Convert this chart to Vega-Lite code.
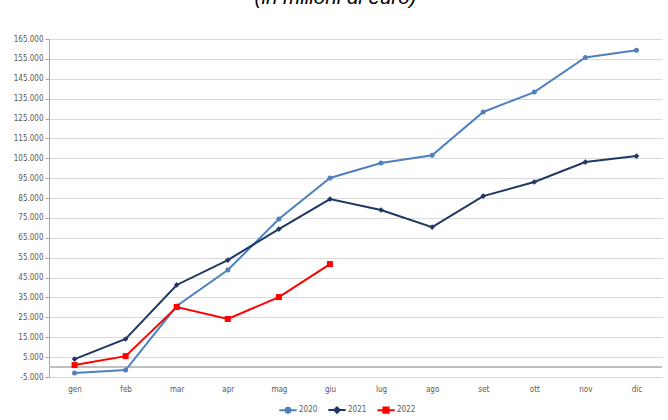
{
  "$schema": "https://vega.github.io/schema/vega-lite/v6.json",
  "width": 613,
  "height": 338,
  "autosize": "none",
  "padding": {"left": 49, "top": 39, "right": 6, "bottom": 43},
  "background": "white",
  "title": {"text": "(in milioni di euro)", "fontStyle": "italic", "fontWeight": "normal", "fontSize": 20.5, "font": "Liberation Sans", "anchor": "middle", "dx": -20, "offset": 0, "dy": -7, "baseline": "bottom", "color": "#000000"},
  "config": {
    "view": {"stroke": null},
    "locale": {"number": {"decimal": ",", "thousands": ".", "grouping": [3], "currency": ["€", ""], "minus": "-"}},
    "axis": {"labelFont": "DejaVu Sans Condensed, Liberation Sans", "labelFontSize": 8, "labelColor": "#595959"},
    "legend": {"labelFont": "DejaVu Sans Condensed, Liberation Sans", "labelFontSize": 8, "labelColor": "#595959"}
  },
  "data": {"values": [
    {"mese": "gen", "anno": "2020", "valore": -3000},
    {"mese": "feb", "anno": "2020", "valore": -1500},
    {"mese": "mar", "anno": "2020", "valore": 30700},
    {"mese": "apr", "anno": "2020", "valore": 48800},
    {"mese": "mag", "anno": "2020", "valore": 74500},
    {"mese": "giu", "anno": "2020", "valore": 95100},
    {"mese": "lug", "anno": "2020", "valore": 102600},
    {"mese": "ago", "anno": "2020", "valore": 106500},
    {"mese": "set", "anno": "2020", "valore": 128300},
    {"mese": "ott", "anno": "2020", "valore": 138300},
    {"mese": "nov", "anno": "2020", "valore": 155700},
    {"mese": "dic", "anno": "2020", "valore": 159300},
    {"mese": "gen", "anno": "2021", "valore": 4000},
    {"mese": "feb", "anno": "2021", "valore": 14100},
    {"mese": "mar", "anno": "2021", "valore": 41300},
    {"mese": "apr", "anno": "2021", "valore": 53800},
    {"mese": "mag", "anno": "2021", "valore": 69400},
    {"mese": "giu", "anno": "2021", "valore": 84500},
    {"mese": "lug", "anno": "2021", "valore": 79000},
    {"mese": "ago", "anno": "2021", "valore": 70400},
    {"mese": "set", "anno": "2021", "valore": 86000},
    {"mese": "ott", "anno": "2021", "valore": 93100},
    {"mese": "nov", "anno": "2021", "valore": 103100},
    {"mese": "dic", "anno": "2021", "valore": 106100},
    {"mese": "gen", "anno": "2022", "valore": 1000},
    {"mese": "feb", "anno": "2022", "valore": 5500},
    {"mese": "mar", "anno": "2022", "valore": 30200},
    {"mese": "apr", "anno": "2022", "valore": 24200},
    {"mese": "mag", "anno": "2022", "valore": 35200},
    {"mese": "giu", "anno": "2022", "valore": 51800}
  ]},
  "encoding": {
    "x": {"field": "mese", "type": "ordinal", "sort": ["gen","feb","mar","apr","mag","giu","lug","ago","set","ott","nov","dic"], "scale": {"type": "point", "padding": 0.5},
          "axis": {"title": null, "domain": false, "ticks": false, "labelPadding": 8, "labelAngle": 0, "grid": false}},
    "y": {"field": "valore", "type": "quantitative", "scale": {"domain": [-5000, 165000], "nice": false, "zero": false},
          "axis": {"title": null, "values": [-5000,5000,15000,25000,35000,45000,55000,65000,75000,85000,95000,105000,115000,125000,135000,145000,155000,165000], "format": ",.0f", "gridColor": "#d9d9d9", "domainColor": "#a6a6a6", "tickColor": "#a6a6a6", "tickSize": 4, "labelPadding": 2}},
    "color": {"field": "anno", "type": "nominal", "scale": {"domain": ["2020","2021","2022"], "range": ["#4f81bd","#1f3864","#ff0000"]}, "legend": null}
  },
  "layer": [
    {
      "data": {"values": [{"zero": 0}]},
      "mark": {"type": "rule", "color": "#bfbfbf", "strokeWidth": 2},
      "encoding": {
        "x": null,
        "color": null,
        "y": {"field": "zero", "type": "quantitative"}
      }
    },
    {
      "mark": {"type": "line", "strokeWidth": 2},
      "encoding": {
        "color": {"field": "anno", "type": "nominal",
                  "legend": {"orient": "none", "legendX": 229, "legendY": 361, "direction": "horizontal", "title": null, "symbolSize": 300, "symbolStrokeWidth": 2, "columnPadding": 6, "labelOffset": 1,
                    "encode": {"symbols": {"update": {
                      "shape": {"signal": "datum.value === '2022' ? 'M-1,0H1M-0.3,-0.3H0.3V0.3H-0.3Z' : datum.value === '2021' ? 'M-1,0H1M0,-0.32L0.32,0L0,0.32L-0.32,0Z' : 'M-1,0H1M0.28,0A0.28,0.28 0 1,1 -0.28,0A0.28,0.28 0 1,1 0.28,0'"},
                      "fill": {"scale": "color", "field": "value"},
                      "fillOpacity": {"value": 1}
                    }}}}}
      }
    },
    {
      "transform": [{"filter": "datum.anno === '2020'"}],
      "mark": {"type": "point", "filled": true, "opacity": 1, "shape": "circle", "size": 25}
    },
    {
      "transform": [{"filter": "datum.anno === '2021'"}],
      "mark": {"type": "point", "filled": true, "opacity": 1, "shape": "diamond", "size": 32}
    },
    {
      "transform": [{"filter": "datum.anno === '2022'"}],
      "mark": {"type": "point", "filled": true, "opacity": 1, "shape": "square", "size": 36}
    }
  ]
}
